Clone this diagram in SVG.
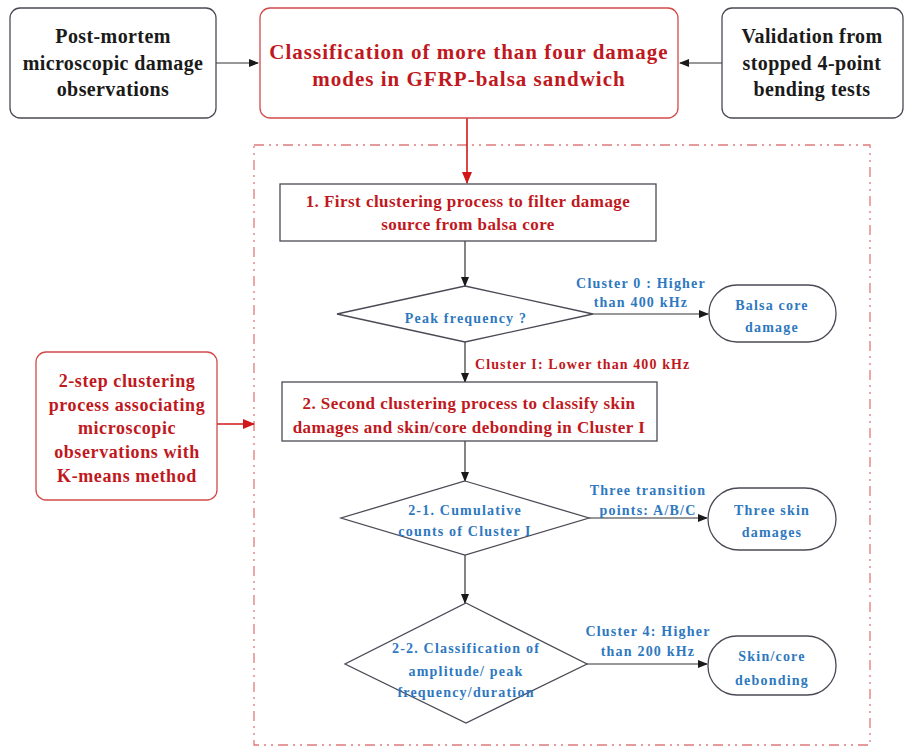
<svg xmlns="http://www.w3.org/2000/svg" width="909" height="747" viewBox="0 0 909 747">
<style>
.box{fill:#fff;stroke:#4a4a55;stroke-width:1.3}
.rbox{fill:#fff;stroke:#d24a4a;stroke-width:1.3}
.line{fill:none;stroke:#333;stroke-width:1.2}
.rline{fill:none;stroke:#d01818;stroke-width:1.6}
.t{font-family:"Liberation Serif","Times New Roman",serif;font-weight:bold;text-anchor:middle}
.k{fill:#1a1a1a;font-size:20px;letter-spacing:0.4px}
.r{fill:#c01820}
.b{fill:#2e78c0;font-size:14px;letter-spacing:1.2px}
.h{font-size:21px;letter-spacing:1px}
.p{font-size:17px;letter-spacing:0.45px}
.l{font-size:18px;letter-spacing:0.6px}
</style>
<defs>
<marker id="ah" markerWidth="10" markerHeight="8" refX="9" refY="4" orient="auto" markerUnits="userSpaceOnUse"><path d="M0,0 L10,4 L0,8 Z" fill="#1a1a1a"/></marker>
<marker id="ahr" markerWidth="12" markerHeight="10" refX="11" refY="5" orient="auto" markerUnits="userSpaceOnUse"><path d="M0,0 L12,5 L0,10 Z" fill="#d01818"/></marker>
</defs>
<rect width="909" height="747" fill="#fff"/>
<rect x="254" y="145" width="616" height="600" fill="none" stroke="#e07a7a" stroke-width="1.3" stroke-dasharray="10 5 2 5 2 5"/>
<g id="connectors">
<line class="line" x1="216" y1="63" x2="258" y2="63" marker-end="url(#ah)"/>
<line class="line" x1="722" y1="63" x2="680" y2="63" marker-end="url(#ah)"/>
<line class="rline" x1="467" y1="118" x2="467" y2="183" marker-end="url(#ahr)"/>
<line class="rline" x1="217" y1="424" x2="254" y2="424" marker-end="url(#ahr)"/>
<line class="line" x1="465" y1="241" x2="465" y2="286" marker-end="url(#ah)"/>
<line class="line" x1="593" y1="314" x2="708" y2="314" marker-end="url(#ah)"/>
<line class="line" x1="465" y1="342" x2="465" y2="382" marker-end="url(#ah)"/>
<line class="line" x1="465" y1="441" x2="465" y2="481" marker-end="url(#ah)"/>
<line class="line" x1="589" y1="518" x2="707" y2="518" marker-end="url(#ah)"/>
<line class="line" x1="465" y1="555" x2="465" y2="603" marker-end="url(#ah)"/>
<line class="line" x1="587" y1="664" x2="707" y2="664" marker-end="url(#ah)"/>
<text class="t b" x="641" y="288">Cluster 0 : Higher</text>
<text class="t b" x="641" y="307">than 400 kHz</text>
<text class="t r" style="font-size:14px;letter-spacing:1.1px;text-anchor:start" x="475" y="369">Cluster I: Lower than 400 kHz</text>
<text class="t b" x="648" y="495">Three transition</text>
<text class="t b" x="648" y="515">points: A/B/C</text>
<text class="t b" x="648" y="636">Cluster 4:  Higher</text>
<text class="t b" x="648" y="656">than 200 kHz</text>
</g>
<g id="n-postmortem">
<rect class="box" x="10" y="8" width="206" height="110" rx="10"/>
<text class="t k" x="113" y="43">Post-mortem</text>
<text class="t k" x="113" y="70">microscopic damage</text>
<text class="t k" x="113" y="96">observations</text>
</g>
<g id="n-classification">
<rect class="rbox" x="260" y="8" width="418" height="110" rx="10"/>
<text class="t r h" x="469" y="59">Classification of more than four damage</text>
<text class="t r h" x="469" y="86">modes in GFRP-balsa sandwich</text>
</g>
<g id="n-validation">
<rect class="box" x="722" y="8" width="181" height="110" rx="10"/>
<text class="t k" x="812" y="43">Validation from</text>
<text class="t k" x="812" y="70">stopped 4-point</text>
<text class="t k" x="812" y="96">bending tests</text>
</g>
<g id="n-twostep">
<rect class="rbox" x="36" y="352" width="181" height="148" rx="10"/>
<text class="t r l" x="127" y="387">2-step clustering</text>
<text class="t r l" x="127" y="411">process associating</text>
<text class="t r l" x="127" y="434">microscopic</text>
<text class="t r l" x="127" y="458">observations with</text>
<text class="t r l" x="127" y="482">K-means method</text>
</g>
<g id="n-first">
<rect class="box" x="280" y="184" width="376" height="57"/>
<text class="t r p" x="468" y="207">1. First clustering process to filter damage</text>
<text class="t r p" x="468" y="230">source from balsa core</text>
</g>
<g id="n-peak">
<polygon class="box" points="465,286 593,314 465,342 337,314"/>
<text class="t b" x="466" y="323">Peak frequency ?</text>
</g>
<g id="n-balsa">
<rect class="box" x="709" y="285" width="127" height="57" rx="28"/>
<text class="t b" x="772" y="310">Balsa core</text>
<text class="t b" x="772" y="332">damage</text>
</g>
<g id="n-second">
<rect class="box" x="282" y="382" width="375" height="59"/>
<text class="t r p" x="469" y="409">2. Second clustering process to classify skin</text>
<text class="t r p" x="469" y="433">damages and skin/core debonding in Cluster I</text>
</g>
<g id="n-cumulative">
<polygon class="box" points="465,481 589,518 465,555 341,518"/>
<text class="t b" x="465" y="515">2-1.  Cumulative</text>
<text class="t b" x="465" y="536">counts of Cluster I</text>
</g>
<g id="n-threeskin">
<rect class="box" x="708" y="488" width="128" height="62" rx="31"/>
<text class="t b" x="772" y="515">Three skin</text>
<text class="t b" x="772" y="537">damages</text>
</g>
<g id="n-classif22">
<polygon class="box" points="466,603 587,664 466,723 345,664"/>
<text class="t b" x="466" y="653">2-2. Classification of</text>
<text class="t b" x="466" y="676">amplitude/ peak</text>
<text class="t b" x="466" y="697">frequency/duration</text>
</g>
<g id="n-skincore">
<rect class="box" x="708" y="636" width="128" height="59" rx="29"/>
<text class="t b" x="772" y="661">Skin/core</text>
<text class="t b" x="772" y="685">debonding</text>
</g>
</svg>
